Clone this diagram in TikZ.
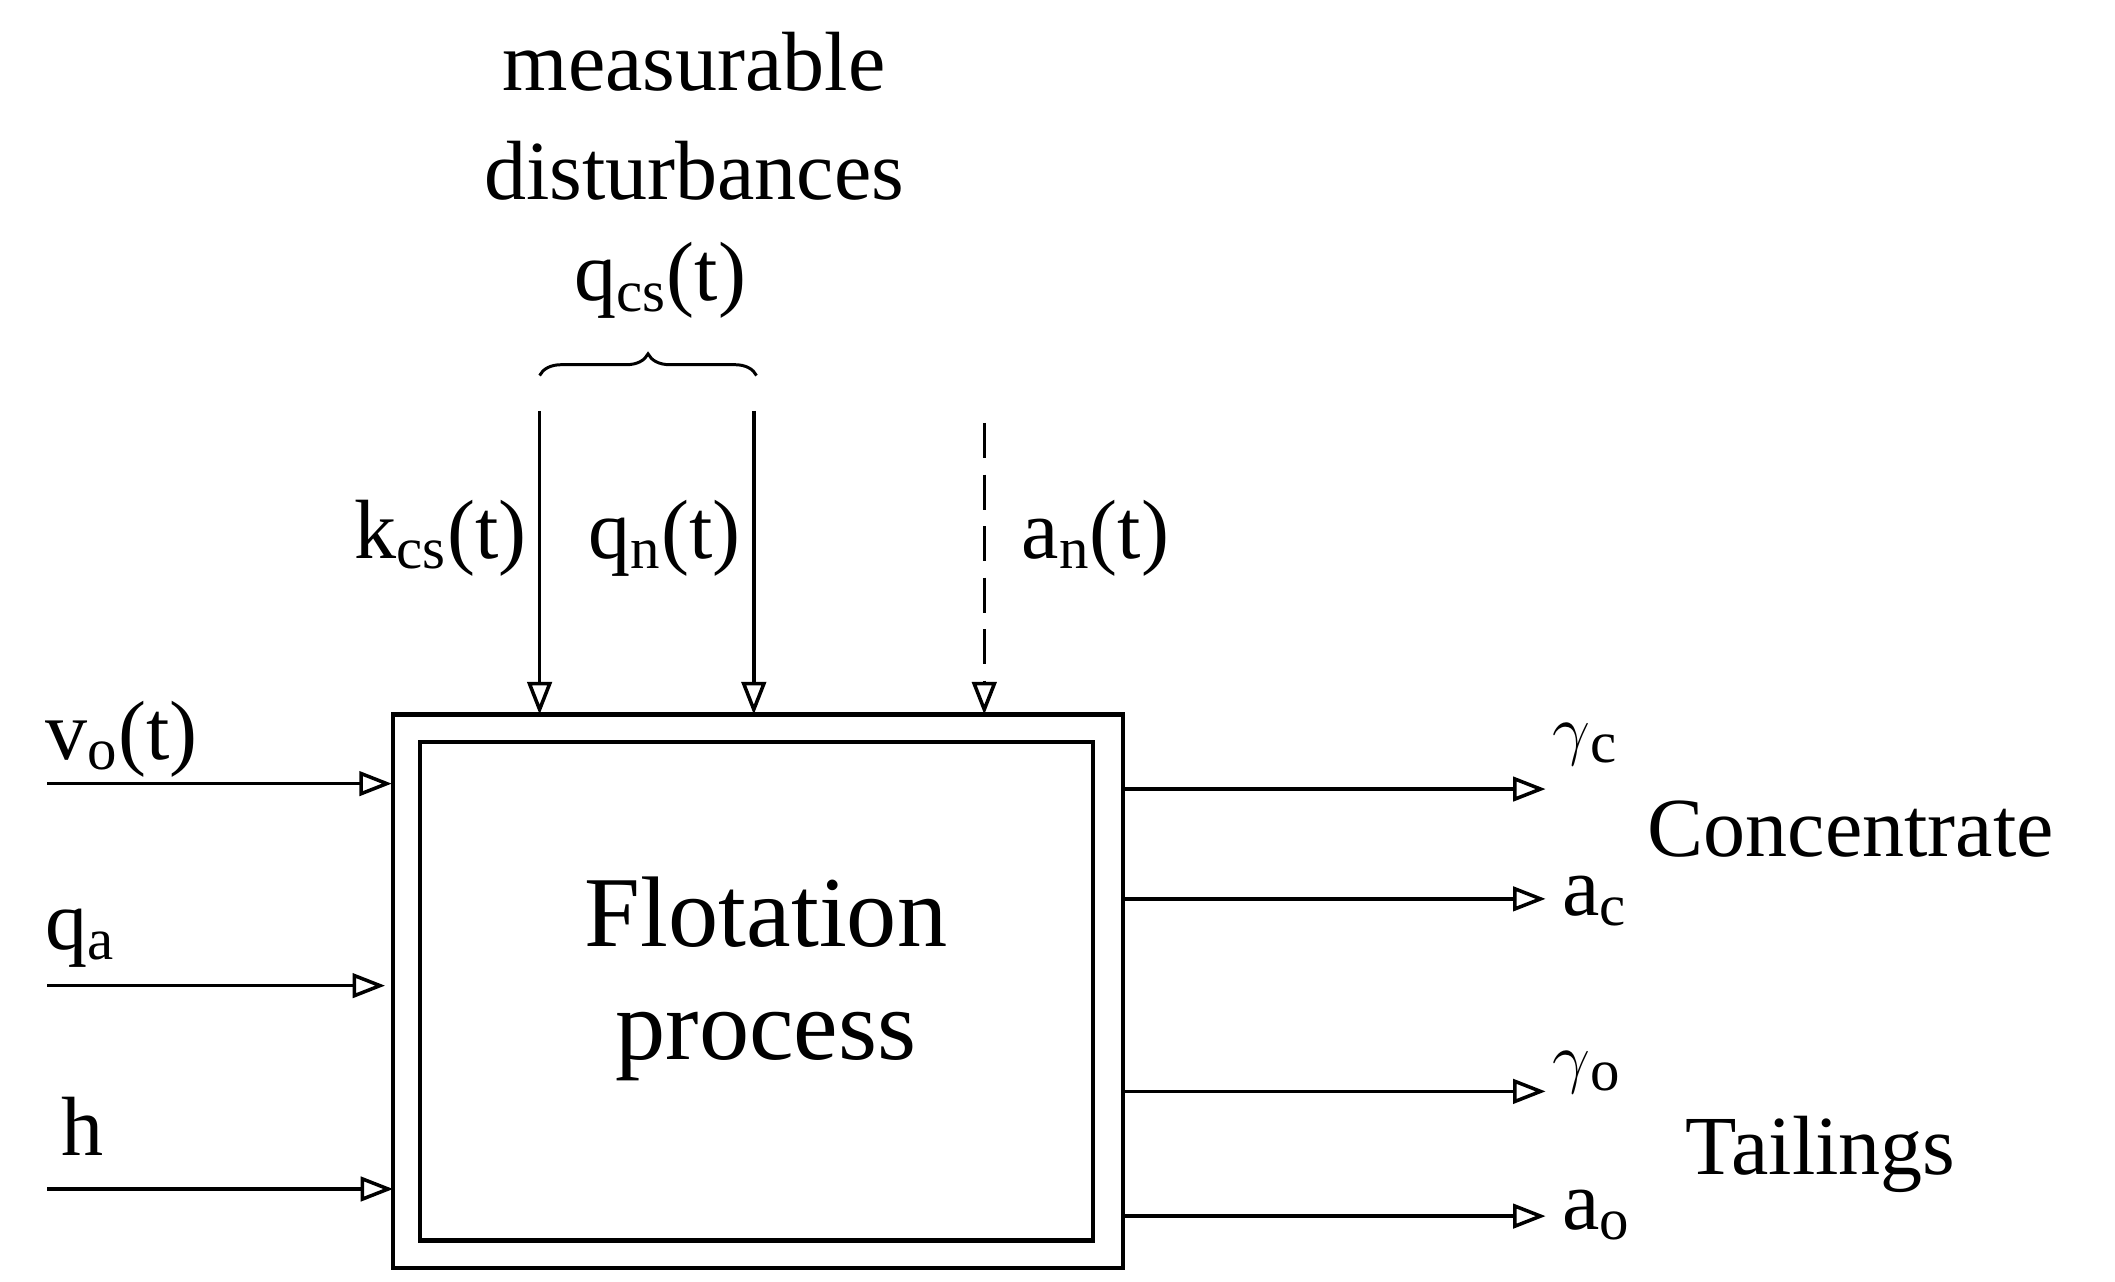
\documentclass[tikz,border=0pt]{standalone}
\usepackage{fontspec}
\setmainfont{Liberation Serif}
\usetikzlibrary{arrows.meta,decorations.pathreplacing}
\begin{document}
\begin{tikzpicture}[x=0.5pt,y=-0.5pt,
  ar/.style={-{Triangle[open,length=12pt,width=9pt]},line width=1.3pt},
  lb/.style={font=\fontsize{31}{34}\selectfont,inner sep=0pt},
  big/.style={font=\fontsize{37}{40}\selectfont,inner sep=0pt}]
\useasboundingbox (0,0) rectangle (1560,945.6);
\draw[line width=1.5pt] (290,527) rectangle (828,935);
\node[draw,line width=1.5pt,minimum width=248pt,minimum height=184pt,inner sep=0pt] (box) at (558,731) {};
\node[big,align=center] (ft) at (565,722) {Flotation\\[2pt]process};
% inputs
\coordinate (i1) at (35,578); \coordinate (e1) at (289,578);
\coordinate (i2) at (35,727); \coordinate (e2) at (284,727);
\coordinate (i3) at (35,877); \coordinate (e3) at (290,877);
\draw[ar] (i1) -- (e1); \draw[ar] (i2) -- (e2); \draw[ar] (i3) -- (e3);
\node[lb,anchor=base west] (vo) at (33,560) {v\textsubscript{o}(t)};
\node[lb,anchor=base west] (qa) at (33,700) {q\textsubscript{a}};
\node[lb,anchor=base west] (hh) at (45,852) {h};
% top
\coordinate (t1) at (398,303); \coordinate (b1) at (398,527);
\coordinate (t2) at (556,303); \coordinate (b2) at (556,527);
\coordinate (t3) at (726,312); \coordinate (b3) at (726,527);
\draw[ar] (t1) -- (b1); \draw[ar] (t2) -- (b2);
\draw[ar,dash pattern=on 13pt off 6pt] (t3) -- (b3);
\node[lb,anchor=base] (kcs) at (325,412) {k\textsubscript{cs}(t)};
\node[lb,anchor=base] (qn) at (490,412) {q\textsubscript{n}(t)};
\node[lb,anchor=base] (an) at (808,412) {a\textsubscript{n}(t)};
\coordinate (br1) at (398,277); \coordinate (br2) at (558,277);
\draw[line width=1.1pt,decorate,decoration={brace,amplitude=8pt}] (br1) -- (br2);
\node[lb,anchor=base] (m1) at (512,67) {measurable};
\node[lb,anchor=base] (m2) at (512,147) {disturbances};
\node[lb,anchor=base] (m3) at (487,222) {q\textsubscript{cs}(t)};
% outputs
\foreach \y/\n in {582/a,663/b,805/c,897/d}{
  \coordinate (s\n) at (828,\y); \coordinate (f\n) at (1140,\y);
  \draw[ar] (s\n) -- (f\n);}
\node[lb,anchor=base west] (gc) at (1145,555) {$\gamma$\textsubscript{c}};
\node[lb,anchor=base west] (ac) at (1152,675) {a\textsubscript{c}};
\node[lb,anchor=base west] (go) at (1145,797) {$\gamma$\textsubscript{o}};
\node[lb,anchor=base west] (ao) at (1152,907) {a\textsubscript{o}};
\node[lb,anchor=base west] (con) at (1215,632) {Concentrate};
\node[lb,anchor=base west] (tai) at (1243,866) {Tailings};
\end{tikzpicture}
\end{document}
